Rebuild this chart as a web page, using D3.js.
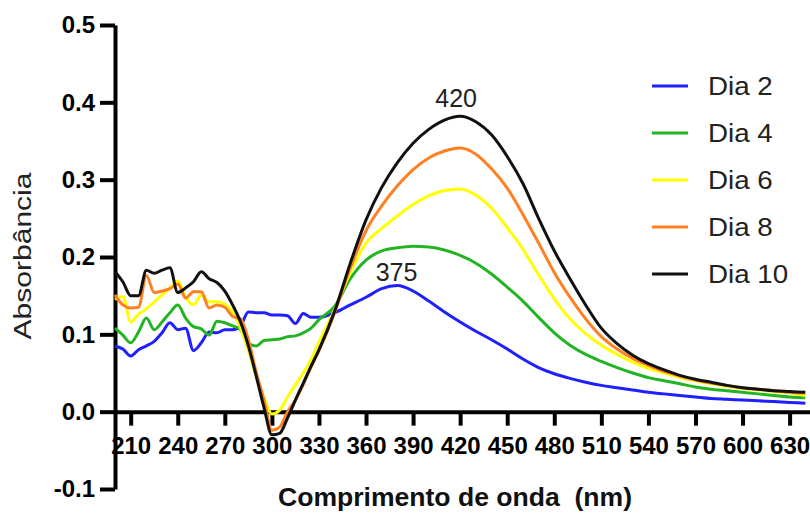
<!DOCTYPE html>
<html>
<head>
  <meta charset="utf-8">
  <title>Absorbância</title>
  <script src="https://d3js.org/d3.v7.min.js"></script>
  <style>
    body { margin: 0; background: #fff; }
    text { font-family: "Liberation Sans", Arial, sans-serif; }
  </style>
</head>
<body>
<script>
// comprimento de onda (nm): passo de 5 até 330, depois de 10
var wavelength = [200,205,210,215,220,225,230,235,240,245,250,255,260,265,270,275,280,285,290,295,300,305,310,315,320,325,330,
                  340,350,360,370,380,390,400,410,420,430,440,450,460,470,480,490,500,510,520,530,540,550,560,570,580,590,600,610,620,630,640];

var dia2 = [0.085,0.081,0.072,0.080,0.085,0.091,0.102,0.115,0.106,0.108,0.079,0.089,0.103,0.102,0.106,0.106,0.111,0.129,0.128,0.128,0.125,0.125,0.124,0.114,0.127,0.122,0.122,
            0.128,0.138,0.148,0.159,0.163,0.156,0.143,0.129,0.116,0.104,0.093,0.081,0.068,0.057,0.049,0.043,0.038,0.034,0.031,0.028,0.025,0.023,0.021,0.019,0.017,0.016,0.015,0.014,0.013,0.012,0.011];
var dia4 = [0.108,0.099,0.089,0.103,0.121,0.106,0.116,0.128,0.138,0.121,0.110,0.107,0.099,0.117,0.115,0.111,0.106,0.088,0.085,0.092,0.093,0.094,0.097,0.098,0.102,0.108,0.119,
            0.136,0.172,0.196,0.208,0.212,0.214,0.213,0.209,0.202,0.192,0.178,0.161,0.143,0.122,0.102,0.086,0.074,0.065,0.057,0.050,0.044,0.040,0.036,0.032,0.029,0.027,0.025,0.023,0.021,0.019,0.018];
var dia6 = [0.145,0.149,0.116,0.126,0.133,0.142,0.151,0.160,0.169,0.148,0.138,0.151,0.142,0.142,0.139,0.129,0.108,0.079,0.045,0.018,-0.003,0.002,0.019,0.035,0.050,0.068,0.090,
            0.132,0.180,0.218,0.237,0.253,0.268,0.279,0.286,0.288,0.280,0.263,0.238,0.210,0.177,0.146,0.120,0.101,0.086,0.074,0.064,0.056,0.050,0.044,0.040,0.036,0.033,0.030,0.028,0.026,0.024,0.021];
var dia8 = [0.151,0.138,0.134,0.135,0.176,0.154,0.156,0.159,0.165,0.147,0.155,0.155,0.134,0.138,0.135,0.123,0.120,0.093,0.051,0.015,-0.024,-0.020,0.000,0.015,0.035,0.058,0.079,
            0.128,0.186,0.234,0.266,0.292,0.313,0.328,0.337,0.341,0.333,0.314,0.289,0.255,0.218,0.180,0.148,0.120,0.097,0.081,0.069,0.060,0.052,0.046,0.041,0.037,0.034,0.031,0.029,0.027,0.025,0.024];
var dia10 = [0.181,0.168,0.150,0.150,0.183,0.179,0.183,0.186,0.154,0.160,0.168,0.181,0.172,0.167,0.156,0.138,0.116,0.085,0.046,0.005,-0.030,-0.028,-0.008,0.015,0.037,0.059,0.080,
             0.130,0.192,0.248,0.290,0.322,0.347,0.365,0.377,0.382,0.375,0.358,0.330,0.295,0.250,0.208,0.172,0.138,0.108,0.088,0.073,0.062,0.054,0.047,0.042,0.038,0.034,0.031,0.029,0.027,0.026,0.025];

var seriesNames = ["Dia 2", "Dia 4", "Dia 6", "Dia 8", "Dia 10"];
var seriesValues = [dia2, dia4, dia6, dia8, dia10];
var colors = ["#1f1fff", "#22b422", "#ffff00", "#ff7f22", "#111111"];

var xTicks = [210,240,270,300,330,360,390,420,450,480,510,540,570,600,630];
var yTicks = [-0.1, 0.0, 0.1, 0.2, 0.3, 0.4, 0.5];

// picos marcados
var peakLabels = [{nm: 420, value: 0.382, text: "420", dx: -4, dy: -9},
                  {nm: 375, value: 0.163, text: "375", dx: 7, dy: -5}];

var width = 810, height = 513;
var svg = d3.select("body").append("svg").attr("width", width).attr("height", height);

var xScale = d3.scaleLinear().domain([200, 643]).range([115, 810]);
var yScale = d3.scaleLinear().domain([-0.1, 0.5]).range([489, 25]);

// eixos
var gx = svg.append("g")
  .attr("transform", "translate(0," + yScale(0) + ")")
  .call(d3.axisBottom(xScale).tickValues(xTicks).tickSizeInner(14).tickSizeOuter(0).tickPadding(11));

var gy = svg.append("g")
  .attr("transform", "translate(" + xScale(200) + ",0)")
  .call(d3.axisLeft(yScale).tickValues(yTicks).tickSizeInner(15).tickSizeOuter(0).tickPadding(5)
    .tickFormat(function(d) { return d.toFixed(1); }));

[gx, gy].forEach(function(g) {
  g.select(".domain").attr("stroke", "#000").attr("stroke-width", 4);
  g.selectAll(".tick line").attr("stroke", "#000").attr("stroke-width", 4);
  g.selectAll(".tick text")
    .attr("fill", "#000")
    .attr("font-size", 24)
    .attr("font-weight", "bold")
    .attr("font-family", "'Liberation Sans', Arial, sans-serif");
});

// linhas
var line = d3.line()
  .x(function(d) { return xScale(d[0]); })
  .y(function(d) { return yScale(d[1]); })
  .curve(d3.curveMonotoneX);

seriesValues.forEach(function(vals, i) {
  svg.append("path")
    .datum(wavelength.map(function(w, j) { return [w, vals[j]]; }))
    .attr("fill", "none")
    .attr("stroke", colors[i])
    .attr("stroke-width", 3)
    .attr("stroke-linejoin", "round")
    .attr("d", line);
});

// rótulos dos picos
svg.selectAll(".peak")
  .data(peakLabels)
  .enter()
  .append("text")
  .attr("x", function(d) { return xScale(d.nm) + d.dx; })
  .attr("y", function(d) { return yScale(d.value) + d.dy; })
  .attr("text-anchor", "middle")
  .attr("font-size", 25)
  .attr("fill", "#222")
  .text(function(d) { return d.text; });

// títulos
svg.append("text")
  .attr("transform", "translate(31,256) rotate(-90)")
  .attr("text-anchor", "middle")
  .attr("font-size", 23)
  .attr("fill", "#222")
  .attr("textLength", 167)
  .attr("lengthAdjust", "spacingAndGlyphs")
  .text("Absorbância");

svg.append("text")
  .attr("x", 455)
  .attr("y", 506)
  .attr("text-anchor", "middle")
  .attr("font-size", 25)
  .attr("font-weight", "bold")
  .attr("fill", "#111")
  .style("white-space", "pre")
  .attr("textLength", 354)
  .attr("lengthAdjust", "spacingAndGlyphs")
  .text("Comprimento de onda  (nm)");

// legenda
var legend = svg.append("g");
seriesNames.forEach(function(name, i) {
  var ly = 86 + i * 47;
  legend.append("line")
    .attr("x1", 652).attr("x2", 688)
    .attr("y1", ly).attr("y2", ly)
    .attr("stroke", colors[i])
    .attr("stroke-width", 3);
  legend.append("text")
    .attr("transform", "translate(708," + ly + ") scale(1.11,1)")
    .attr("dy", "0.35em")
    .attr("font-size", 25)
    .attr("fill", "#222")
    .text(name);
});
</script>
</body>
</html>
